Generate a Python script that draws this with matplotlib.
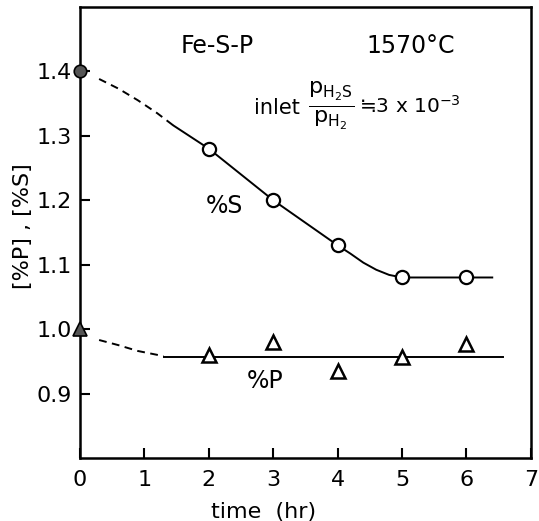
import matplotlib
matplotlib.use('Agg')
import matplotlib.pyplot as plt

# measured points
time_pts = [0, 2, 3, 4, 5, 6]
s_pts = [1.40, 1.28, 1.20, 1.13, 1.08, 1.08]
p_pts = [1.00, 0.96, 0.98, 0.935, 0.957, 0.977]

# hand drawn curves
s_dash_t = [0.3, 0.6, 0.9, 1.2, 1.45]
s_dash_v = [1.388, 1.373, 1.355, 1.335, 1.316]
s_solid_t = [1.45, 2.0, 2.5, 3.0, 3.5, 4.0, 4.2, 4.4, 4.6, 4.8, 5.0, 6.4]
s_solid_v = [1.316, 1.28, 1.24, 1.20, 1.165, 1.13, 1.117, 1.103, 1.092, 1.084, 1.08, 1.08]

p_dash_t = [0.3, 0.6, 0.9, 1.3]
p_dash_v = [0.983, 0.975, 0.966, 0.958]
p_solid_t = [1.3, 6.57]
p_solid_v = [0.957, 0.957]

xticks = [0, 1, 2, 3, 4, 5, 6, 7]
yticks = [0.9, 1.0, 1.1, 1.2, 1.3, 1.4]
ytick_labels = ['0.9', '1.0', '1.1', '1.2', '1.3', '1.4']

plt.rcParams['mathtext.default'] = 'regular'
plt.rcParams['font.family'] = 'DejaVu Sans'

fig = plt.figure(figsize=(5.39, 5.21), dpi=100)
ax = fig.add_axes([0.148, 0.121, 0.837, 0.866])

lw = 1.4
ax.plot(s_dash_t, s_dash_v, color='black', lw=lw, ls=(0, (4, 2.8)))
ax.plot(s_solid_t, s_solid_v, color='black', lw=lw)
ax.plot(p_dash_t, p_dash_v, color='black', lw=lw, ls=(0, (4, 2.8)))
ax.plot(p_solid_t, p_solid_v, color='black', lw=lw)

# open markers
ax.plot(time_pts[1:], s_pts[1:], 'o', ms=9.5, mfc='white', mec='black', mew=1.6, zorder=5)
ax.plot(time_pts[1:], p_pts[1:], '^', ms=10, mfc='white', mec='black', mew=1.8, zorder=5)
# initial values (filled)
ax.plot(time_pts[0], s_pts[0], 'o', ms=9, mfc='#555555', mec='black', mew=1.2, zorder=6, clip_on=False)
ax.plot(time_pts[0], p_pts[0], '^', ms=9.5, mfc='#555555', mec='black', mew=1.2, zorder=6, clip_on=False)

ax.set_xlim(0, 7)
ax.set_ylim(0.8, 1.5)
ax.set_xticks(xticks)
ax.set_yticks(yticks)
ax.set_yticklabels(ytick_labels)
ax.tick_params(direction='in', length=7, width=1.5, labelsize=16)
ax.tick_params(axis='x', pad=9)
ax.tick_params(axis='y', pad=6)
for sp in ax.spines.values():
    sp.set_linewidth(1.8)

ax.set_xlabel('time  (hr)', fontsize=16)
ax.xaxis.set_label_coords(0.408, -0.098)
ax.set_ylabel('[%P] , [%S]', fontsize=16)
ax.yaxis.set_label_coords(-0.104, 0.514)

ax.text(2.13, 1.439, 'Fe-S-P', fontsize=17, ha='center', va='center')
ax.text(5.13, 1.439, '1570°C', fontsize=17, ha='center', va='center')
ax.text(2.24, 1.191, '%S', fontsize=17, ha='center', va='center')
ax.text(2.88, 0.92, '%P', fontsize=17, ha='center', va='center')

ax.text(2.70, 1.343, 'inlet', fontsize=15, ha='left', va='center')
ax.text(3.90, 1.346, r'$\frac{p_{H_2S}}{p_{H_2}}$', fontsize=23, ha='center', va='center')
ax.text(4.33, 1.346, r'≒3 x 10$^{-3}$', fontsize=14.5, ha='left', va='center')

fig.savefig('out.png', dpi=100)
